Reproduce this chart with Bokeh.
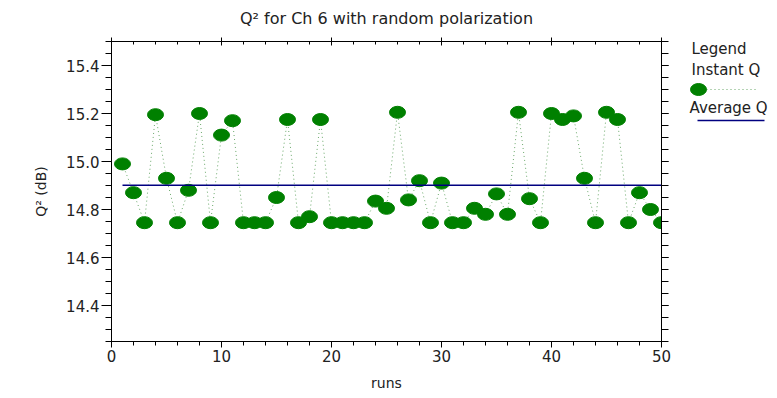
import numpy as np
from bokeh.plotting import figure
from bokeh.layouts import row
from bokeh.models import (LinearAxis, Range1d, SingleIntervalTicker,
                          PrintfTickFormatter, ColumnDataSource, Label)
from bokeh.embed import file_html
from bokeh.resources import INLINE

# Q^2 per run, channel 6, random polarization
runs = list(range(1, 51))
q2_db = [14.99, 14.87, 14.745, 15.195, 14.93, 14.745, 14.88, 15.20, 14.745, 15.11,
         15.17, 14.745, 14.745, 14.745, 14.85, 15.175, 14.745, 14.77, 15.175, 14.745,
         14.745, 14.745, 14.745, 14.835, 14.805, 15.205, 14.84, 14.92, 14.745, 14.91,
         14.745, 14.745, 14.805, 14.78, 14.865, 14.78, 15.205, 14.845, 14.745, 15.20,
         15.175, 15.19, 14.93, 14.745, 15.205, 15.175, 14.745, 14.87, 14.80, 14.745]
avg_q2 = float(np.mean(q2_db))

legend_title = "Legend"
legend_labels = ["Instant Q", "Average Q"]

FONT = "DejaVu Sans"
GREEN = "#008000"
DOTS = "#6aa86a"
NAVY = "#000080"
TXT = "#222222"

# frame: 111..661 px wide, 41..341 px high
BORDER_TOP, BORDER_BOTTOM = 41, 57

p = figure(width=672, height=398,
           x_range=Range1d(0, 50), y_range=Range1d(14.25, 15.5),
           output_backend="svg", toolbar_location=None,
           x_axis_location=None, y_axis_location=None,
           min_border_left=111, min_border_right=11,
           min_border_top=BORDER_TOP, min_border_bottom=BORDER_BOTTOM)
p.grid.visible = False
p.outline_line_color = "black"
p.background_fill_color = "white"
p.border_fill_color = "white"

p.title.text = "Q\u00b2 for Ch 6 with random polarization"
p.title.align = "center"
p.title.vertical_align = "top"
p.title.text_font = FONT
p.title.text_font_size = "16px"
p.title.text_font_style = "normal"
p.title.text_color = TXT
p.title.text_line_height = 0.7
p.title.standoff = 16


def make_axis(ticker, label=None, fmt=None, show_labels=True):
    ax = LinearAxis(ticker=ticker)
    if fmt is not None:
        ax.formatter = fmt
    if label:
        ax.axis_label = label
    ax.axis_line_color = "black"
    ax.major_tick_line_color = "black"
    ax.minor_tick_line_color = "black"
    ax.major_label_text_font = FONT
    ax.axis_label_text_font = FONT
    ax.axis_label_text_font_size = "14px"
    ax.axis_label_text_font_style = "normal"
    ax.axis_label_text_color = TXT
    if show_labels:
        ax.major_label_text_font_size = "15px"
        ax.major_label_text_color = TXT
    else:
        # mirror axis: ticks only
        ax.major_label_text_font_size = "0px"
        ax.major_label_text_color = None
        ax.major_label_standoff = 0
    return ax


xticks = SingleIntervalTicker(interval=10, num_minor_ticks=5)
yticks = SingleIntervalTicker(interval=0.2, num_minor_ticks=4)
yfmt = PrintfTickFormatter(format="%.1f")

bottom = make_axis(xticks, "runs")
bottom.major_tick_in, bottom.major_tick_out = 0, 6
bottom.minor_tick_in, bottom.minor_tick_out = 0, 4
bottom.major_label_standoff = 2
bottom.axis_label_standoff = 10
p.add_layout(bottom, "below")

left = make_axis(yticks, "Q\u00b2 (dB)", yfmt)
left.major_tick_in, left.major_tick_out = 0, 10
left.minor_tick_in, left.minor_tick_out = 0, 6
left.major_label_standoff = 2
left.axis_label_standoff = 14
p.add_layout(left, "left")

top = make_axis(SingleIntervalTicker(interval=10, num_minor_ticks=5), show_labels=False)
top.major_tick_in, top.major_tick_out = 4, 4
top.minor_tick_in, top.minor_tick_out = 3, 0
p.add_layout(top, "above")

right = make_axis(SingleIntervalTicker(interval=0.2, num_minor_ticks=4), show_labels=False)
right.major_tick_in, right.major_tick_out = 0, 7
right.minor_tick_in, right.minor_tick_out = 0, 7
p.add_layout(right, "right")

src = ColumnDataSource(dict(run=runs, q2=q2_db, avg=[avg_q2] * len(runs)))
p.line("run", "q2", source=src, line_color=DOTS, line_dash="1 3", line_width=1)
p.ellipse("run", "q2", source=src, width=16, height=12,
          width_units="screen", height_units="screen",
          fill_color=GREEN, line_color=GREEN)
p.line("run", "avg", source=src, line_color=NAVY, line_width=1.6)

# legend panel to the right of the plot; its frame shares the plot's
# vertical extent, y measured in pixels up from the frame bottom
lg = figure(width=105, height=398,
            x_range=Range1d(0, 105), y_range=Range1d(0, 300),
            output_backend="svg", toolbar_location=None,
            x_axis_location=None, y_axis_location=None,
            min_border_left=0, min_border_right=0,
            min_border_top=BORDER_TOP, min_border_bottom=BORDER_BOTTOM)
lg.grid.visible = False
lg.outline_line_color = None
for tx, ty, txt in [(19, 293, legend_title),
                    (19, 272, legend_labels[0]),
                    (17, 234, legend_labels[1])]:
    lg.add_layout(Label(x=tx, y=ty, text=txt, text_font=FONT,
                        text_font_size="15px", text_color=TXT,
                        text_baseline="middle"))
lg.line([26, 86], [252, 252], line_color=DOTS, line_dash="1 3", line_width=1)
lg.ellipse([26], [252], width=16, height=12,
           width_units="screen", height_units="screen",
           fill_color=GREEN, line_color=GREEN)
lg.line([25, 92], [221, 221], line_color=NAVY, line_width=1.6)

layout = row(p, lg)
open("out.html", "w").write(file_html(layout, INLINE))
